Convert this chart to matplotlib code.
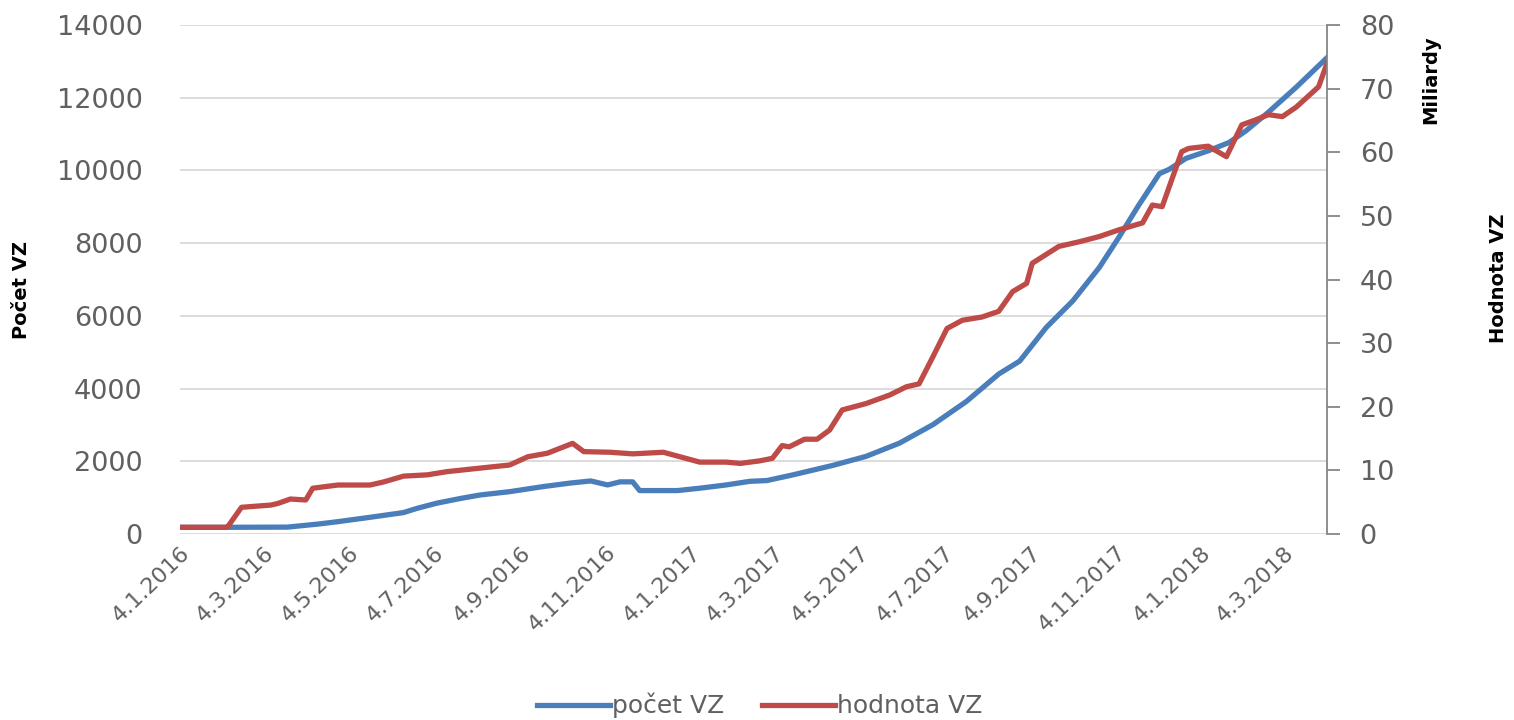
import matplotlib
matplotlib.use("Agg")
import matplotlib.pyplot as plt
import numpy as np
import pandas as pd

# počet VZ (left axis)
count_dates = ["2016-01-04", "2016-02-06", "2016-03-21", "2016-04-12", "2016-04-26",
               "2016-05-19", "2016-06-12", "2016-06-22", "2016-07-06", "2016-07-23",
               "2016-08-06", "2016-08-27", "2016-09-20", "2016-10-09", "2016-10-24",
               "2016-11-05", "2016-11-14", "2016-11-23", "2016-11-28", "2016-12-25",
               "2017-01-10", "2017-01-29", "2017-02-15", "2017-02-27", "2017-03-18",
               "2017-04-15", "2017-05-09", "2017-06-02", "2017-06-26", "2017-07-20",
               "2017-08-12", "2017-08-27", "2017-09-15", "2017-10-04", "2017-10-23",
               "2017-11-06", "2017-11-20", "2017-12-05", "2017-12-12", "2017-12-24",
               "2018-01-09", "2018-01-24", "2018-02-05", "2018-02-21", "2018-03-13",
               "2018-04-04"]
count_vals = [185, 185, 190, 275, 340,
              460, 590, 710, 850, 980,
              1075, 1165, 1305, 1400, 1460,
              1350, 1435, 1435, 1195, 1195,
              1260, 1350, 1450, 1470, 1630,
              1885, 2135, 2500, 3010, 3650,
              4400, 4755, 5680, 6410, 7330,
              8160, 9030, 9910, 10030, 10330,
              10540, 10770, 11090, 11600, 12290,
              13100]

# hodnota VZ (right axis, miliardy)
value_dates = ["2016-01-04", "2016-02-06", "2016-02-07", "2016-02-17", "2016-03-09",
               "2016-03-14", "2016-03-23", "2016-04-03", "2016-04-08", "2016-04-26",
               "2016-05-19", "2016-05-29", "2016-06-12", "2016-06-29", "2016-07-13",
               "2016-07-30", "2016-08-27", "2016-09-09", "2016-09-23", "2016-10-11",
               "2016-10-19", "2016-11-07", "2016-11-23", "2016-12-15", "2017-01-10",
               "2017-01-29", "2017-02-08", "2017-02-22", "2017-03-03", "2017-03-10",
               "2017-03-15", "2017-03-26", "2017-04-04", "2017-04-13", "2017-04-22",
               "2017-05-09", "2017-05-26", "2017-06-07", "2017-06-16", "2017-06-26",
               "2017-07-06", "2017-07-17", "2017-07-31", "2017-08-12", "2017-08-22",
               "2017-09-01", "2017-09-05", "2017-09-24", "2017-10-09", "2017-10-23",
               "2017-11-06", "2017-11-23", "2017-11-30", "2017-12-07", "2017-12-21",
               "2017-12-26", "2018-01-09", "2018-01-22", "2018-02-02", "2018-02-12",
               "2018-02-21", "2018-03-03", "2018-03-13", "2018-03-29", "2018-04-04"]
value_vals = [1.05, 1.05, 1.1, 4.2, 4.55,
              4.8, 5.5, 5.35, 7.2, 7.7,
              7.7, 8.2, 9.1, 9.3, 9.8,
              10.2, 10.85, 12.15, 12.7, 14.25,
              12.95, 12.85, 12.6, 12.85, 11.3,
              11.3, 11.1, 11.5, 11.9, 13.9,
              13.7, 14.9, 14.9, 16.35, 19.5,
              20.5, 21.85, 23.15, 23.6, 27.9,
              32.3, 33.6, 34.1, 35.0, 38.1,
              39.4, 42.55, 45.2, 45.95, 46.75,
              47.8, 48.9, 51.7, 51.45, 60.1,
              60.6, 60.95, 59.3, 64.3, 65.1,
              65.9, 65.6, 67.1, 70.3, 74.0]

tick_dates = pd.date_range("2016-01-01", "2018-03-01", freq="2MS") + pd.Timedelta(days=3)
tick_labels = [f"{d.day}.{d.month}.{d.year}" for d in tick_dates]

blue = "#4A7EBB"
red = "#BE4B48"
gray = "#606060"

plt.rcParams["font.family"] = ["DejaVu Sans"]

fig = plt.figure(figsize=(15.14, 7.2), dpi=100)
ax = fig.add_axes([0.1189, 0.2583, 0.7576, 0.707])
ax2 = ax.twinx()

ax.plot(pd.to_datetime(count_dates), count_vals, color=blue, lw=3.8,
        solid_joinstyle="round", label="počet VZ")
ax2.plot(pd.to_datetime(value_dates), value_vals, color=red, lw=3.8,
         solid_joinstyle="round", label="hodnota VZ")

ax.set_xlim(pd.Timestamp("2016-01-04"), pd.Timestamp("2018-04-04"))
ax.set_ylim(0, 14000)
ax2.set_ylim(0, 80)
ax.set_yticks(np.arange(0, 14001, 2000))
ax2.set_yticks(np.arange(0, 81, 10))
ax.grid(axis="y", color="#D9D9D9", lw=1.3)
ax.set_axisbelow(True)

ax.set_xticks(tick_dates)
ax.set_xticklabels(tick_labels, rotation=44, ha="right", rotation_mode="anchor",
                   fontsize=16, color=gray)
ax.tick_params(axis="x", length=0, pad=6)
ax.tick_params(axis="y", length=0, labelsize=19.5, labelcolor=gray, pad=27)
ax2.tick_params(axis="y", length=9.5, width=1.3, color="#868686", labelsize=19.5,
                labelcolor=gray, pad=14)

for s in ["top", "left", "bottom", "right"]:
    ax.spines[s].set_visible(False)
for s in ["top", "left", "bottom"]:
    ax2.spines[s].set_visible(False)
ax2.spines["right"].set_color("#868686")
ax2.spines["right"].set_linewidth(1.3)

fig.text(0.014, 0.597, "Počet VZ", rotation=90, ha="center", va="center",
         fontsize=14, fontweight="bold")
fig.text(0.945, 0.889, "Miliardy", rotation=90, ha="center", va="center",
         fontsize=14, fontweight="bold")
fig.text(0.99, 0.614, "Hodnota VZ", rotation=90, ha="center", va="center",
         fontsize=14, fontweight="bold")

h1, l1 = ax.get_legend_handles_labels()
h2, l2 = ax2.get_legend_handles_labels()
fig.legend(h1 + h2, l1 + l2, loc="center", bbox_to_anchor=(0.502, 0.02),
           ncol=2, frameon=False, fontsize=18, labelcolor=gray,
           handlelength=2.9, handletextpad=0.1, columnspacing=1.5)

fig.savefig("out.png", dpi=100)
